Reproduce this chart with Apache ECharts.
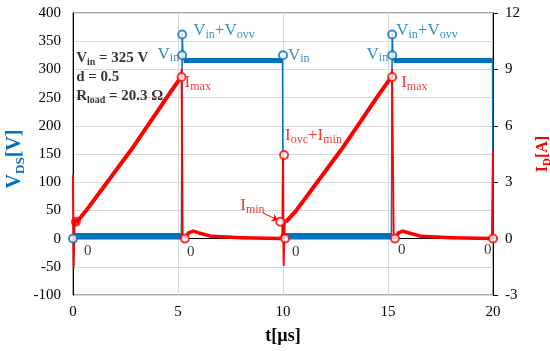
<!DOCTYPE html>
<html><head><meta charset="utf-8">
<script src="https://cdn.jsdelivr.net/npm/echarts@6/dist/echarts.min.js"></script>
<style>html,body{margin:0;padding:0;background:#fff}#c{width:550px;height:351px}</style>
</head><body><div id="c"></div>
<script>
const BLUE = '#0070C0', RED = '#FF0000', FONT = 'Liberation Serif';

// ---- axes ----
const xRange = [0, 20];           // t [µs], step 5
const vRange = [-100, 400];       // V_DS [V], step 50
const iRange = [-3, 12];          // I_D [A], step 3

// ---- V_DS waveform (V) : noisy flat bands ----
const vdsLowA  = [[0.05, 4], [5.15, 4]];
const vdsLowB  = [[10.03, 4], [15.15, 4]];
const vdsHighA = [[5.27, 316], [9.98, 316]];
const vdsHighB = [[15.27, 316], [19.98, 316]];
// V_DS switching edges (V)
const vdsEdge0 = [[0.03, -25], [0.06, 15]];
const vdsEdge1 = [[5.16, 4], [5.2, 364], [5.24, 320], [5.27, 316]];
const vdsEdge2 = [[9.98, 316], [10.0, 2]];
const vdsEdge3 = [[15.16, 4], [15.2, 364], [15.24, 320], [15.27, 316]];
const vdsEdge4 = [[19.98, 316], [20.0, 4]];

// ---- I_D waveform (A) ----
const idRampA = [[0.175, 0.87], [0.6, 1.45], [2.79, 4.75], [4.61, 7.74], [5.15, 8.6]];
const idTailA = [[5.33, 0], [5.5, 0.3], [5.73, 0.4], [6.0, 0.3], [6.6, 0.12], [8.0, 0.05], [9.9, 0.0]];
const idRampB = [[10.15, 0.9], [10.6, 1.45], [12.79, 4.75], [14.61, 7.74], [15.17, 8.6]];
const idTailB = [[15.33, 0], [15.5, 0.3], [15.71, 0.4], [16.0, 0.3], [16.6, 0.12], [18.0, 0.05], [19.95, 0.0]];
const idEdge0 = [[0.0, 3.4], [0.03, -1.5], [0.08, 1.0], [0.175, 0.87]];
const idEdge1 = [[5.15, 8.6], [5.17, 8.95], [5.22, 0], [5.33, 0]];
const idEdge2 = [[9.9, 0], [9.97, 0.3], [10.0, 4.45], [10.03, -1.4], [10.08, 0.8], [10.15, 0.9]];
const idEdge3 = [[15.17, 8.6], [15.19, 8.95], [15.27, 0], [15.33, 0]];
const idEdge4 = [[19.95, 0], [20.0, 4.7]];

// ---- annotated points ----
const vMarkT = [0, 5.2, 5.2, 10.0, 15.2, 15.2];
const vMarkV = [0, 362, 325, 325, 362, 325];
const vMarkText = ['0', '{b|V}{bs|in}{b|+V}{bs|ovv}', '{b|V}{bs|in}', '{b|V}{bs|in}', '{b|V}{bs|in}{b|+V}{bs|ovv}', '{b|V}{bs|in}'];
const iMarkT = [5.17, 5.33, 9.87, 10.05, 10.1, 15.2, 15.33, 20.0];
const iMarkI = [8.6, 0, 0.9, 4.45, 0, 8.6, 0, 0];
const iMarkText = ['{r|I}{rs|max}', '0', '{r|I}{rs|min}', '{r|I}{rs|ovc}{r|+I}{rs|min}', '0', '{r|I}{rs|max}', '0', '0'];
const iStart = [[0.14, 0.9]];
const arrowImin = [[9.05, 1.36], [9.76, 0.98]];
const infoPos = [[0.15, 286]];
const infoText = '{k|V}{ks|in}{k| = 325 V}\n{k|d = 0.5}\n{k|R}{ks|load}{k| = 20.3 Ω}';

// label styles (presentation only)
const vLabStyle = [
  {align:'left', offset:[11, 12]},
  {align:'left', offset:[11, -4]},
  {align:'right', offset:[-3, -1]},
  {align:'left', offset:[5, 0]},
  {align:'left', offset:[4, -4]},
  {align:'right', offset:[-4, -1]}
];
const iLabStyle = [
  {align:'left', offset:[3, 6]},
  {align:'left', offset:[2, 13]},
  {align:'left', offset:[-40, -16]},
  {align:'left', offset:[1, -19]},
  {align:'left', offset:[7, 13]},
  {align:'left', offset:[9, 6]},
  {align:'left', offset:[3, 11]},
  {align:'left', offset:[-9, 11]}
];

const rich = {
  b:  {fontFamily: FONT, fontSize: 17, color: BLUE, lineHeight: 20, verticalAlign: 'middle'},
  bs: {fontFamily: FONT, fontSize: 12, color: BLUE, lineHeight: 10, verticalAlign: 'bottom'},
  r:  {fontFamily: FONT, fontSize: 17, color: RED, lineHeight: 20, verticalAlign: 'middle'},
  rs: {fontFamily: FONT, fontSize: 12, color: RED, lineHeight: 10, verticalAlign: 'bottom'},
  k:  {fontFamily: FONT, fontSize: 15, fontWeight: 'bold', color: '#000', lineHeight: 19, verticalAlign: 'middle'},
  ks: {fontFamily: FONT, fontSize: 10, fontWeight: 'bold', color: '#000', lineHeight: 8, verticalAlign: 'bottom'}
};

function lineS(data, yIdx, color, width, z) {
  return {type: 'line', data: data, yAxisIndex: yIdx, symbol: 'none', silent: true,
    lineStyle: {color: color, width: width, join: 'round'}, z: z, animation: false};
}

const series = [];
[vdsLowA, vdsLowB].forEach(d => series.push(lineS(d, 0, BLUE, 6.5, 2)));
[vdsHighA, vdsHighB].forEach(d => series.push(lineS(d, 0, BLUE, 5, 2)));
[vdsEdge0, vdsEdge1, vdsEdge2, vdsEdge3, vdsEdge4].forEach(d => series.push(lineS(d, 0, BLUE, 1.5, 2)));
[idRampA, idRampB].forEach(d => series.push(lineS(d, 1, RED, 4, 3)));
[idTailA, idTailB].forEach(d => series.push(lineS(d, 1, RED, 3.5, 3)));
[idEdge0, idEdge1, idEdge2, idEdge3, idEdge4].forEach(d => series.push(lineS(d, 1, RED, 2, 3)));

function fmt(s) { return () => s; }

series.push({
  type: 'scatter', yAxisIndex: 0, symbol: 'emptyCircle', symbolSize: 8, z: 5, animation: false,
  itemStyle: {color: BLUE, borderColor: BLUE, borderWidth: 2},
  data: vMarkT.map((t, k) => ({
    value: [t, vMarkV[k]],
    label: {show: true, position: 'inside', formatter: fmt(vMarkText[k]), rich: rich,
      fontFamily: FONT, fontSize: 15, color: '#000', verticalAlign: 'middle',
      align: vLabStyle[k].align, offset: vLabStyle[k].offset}
  }))
});
series.push({
  type: 'scatter', yAxisIndex: 1, symbol: 'emptyCircle', symbolSize: 8, z: 6, animation: false,
  itemStyle: {color: RED, borderColor: RED, borderWidth: 2},
  data: iMarkT.map((t, k) => ({
    value: [t, iMarkI[k]],
    label: {show: true, position: 'inside', formatter: fmt(iMarkText[k]), rich: rich,
      fontFamily: FONT, fontSize: 15, color: '#000', verticalAlign: 'middle',
      align: iLabStyle[k].align, offset: iLabStyle[k].offset}
  }))
});
series.push({
  type: 'scatter', yAxisIndex: 1, symbol: 'circle', symbolSize: 10, z: 6, animation: false,
  itemStyle: {color: RED}, data: iStart
});
series.push({
  type: 'lines', coordinateSystem: 'cartesian2d', yAxisIndex: 1, z: 6, animation: false,
  symbol: ['none', 'arrow'], symbolSize: 6,
  lineStyle: {color: RED, width: 1, opacity: 1},
  data: [{coords: arrowImin}]
});
series.push({
  type: 'scatter', yAxisIndex: 0, symbolSize: 0, z: 7, animation: false,
  data: infoPos.map(p => ({value: p,
    label: {show: true, position: 'inside', align: 'left', verticalAlign: 'middle',
      formatter: fmt(infoText), rich: rich}}))
});

const chart = echarts.init(document.getElementById('c'), null, {renderer: 'canvas'});
chart.setOption({
  backgroundColor: '#fff',
  animation: false,
  grid: {left: 73, right: 57, top: 13, bottom: 56, show: true, borderColor: '#595959', borderWidth: 1,
    containLabel: false, outerBoundsMode: 'none'},
  xAxis: {
    type: 'value', min: xRange[0], max: xRange[1], interval: 5,
    axisLine: {lineStyle: {color: '#000', width: 1}},
    axisTick: {show: false},
    axisLabel: {fontFamily: FONT, fontSize: 15, color: '#000', margin: 10},
    splitLine: {lineStyle: {color: '#D9D9D9', width: 1}},
    name: 't[µs]', nameLocation: 'middle', nameGap: 32, nameMoveOverlap: false,
    nameTextStyle: {fontFamily: FONT, fontSize: 18, fontWeight: 'bold', color: '#000'}
  },
  yAxis: [{
    type: 'value', min: vRange[0], max: vRange[1], interval: 50,
    axisLine: {show: true, lineStyle: {color: '#000', width: 1}},
    axisTick: {show: false},
    axisLabel: {fontFamily: FONT, fontSize: 15, color: '#000', margin: 12},
    splitLine: {lineStyle: {color: '#D9D9D9', width: 1}},
    name: '{n|V}{ns|DS}{n|[V]}', nameLocation: 'middle', nameGap: 46, nameMoveOverlap: false,
    nameTextStyle: {padding: [0, 10, 0, 0], rich: {
      n: {fontFamily: FONT, fontSize: 20, fontWeight: 'bold', color: BLUE, lineHeight: 24, verticalAlign: 'middle'},
      ns: {fontFamily: FONT, fontSize: 13, fontWeight: 'bold', color: BLUE, lineHeight: 12, verticalAlign: 'bottom'}
    }}
  }, {
    type: 'value', min: iRange[0], max: iRange[1], interval: 3, position: 'right',
    axisLine: {show: true, lineStyle: {color: '#000', width: 1}},
    axisTick: {show: true, length: 5, lineStyle: {color: '#000'}},
    axisLabel: {fontFamily: FONT, fontSize: 15, color: '#000', margin: 12},
    splitLine: {show: false},
    name: '{n|I}{ns|D}{n|[A]}', nameLocation: 'middle', nameGap: 40, nameMoveOverlap: false,
    nameTextStyle: {rich: {
      n: {fontFamily: FONT, fontSize: 16, fontWeight: 'bold', color: RED, lineHeight: 20, verticalAlign: 'middle'},
      ns: {fontFamily: FONT, fontSize: 11, fontWeight: 'bold', color: RED, lineHeight: 10, verticalAlign: 'bottom'}
    }}
  }],
  series: series
});
</script>
</body></html>
